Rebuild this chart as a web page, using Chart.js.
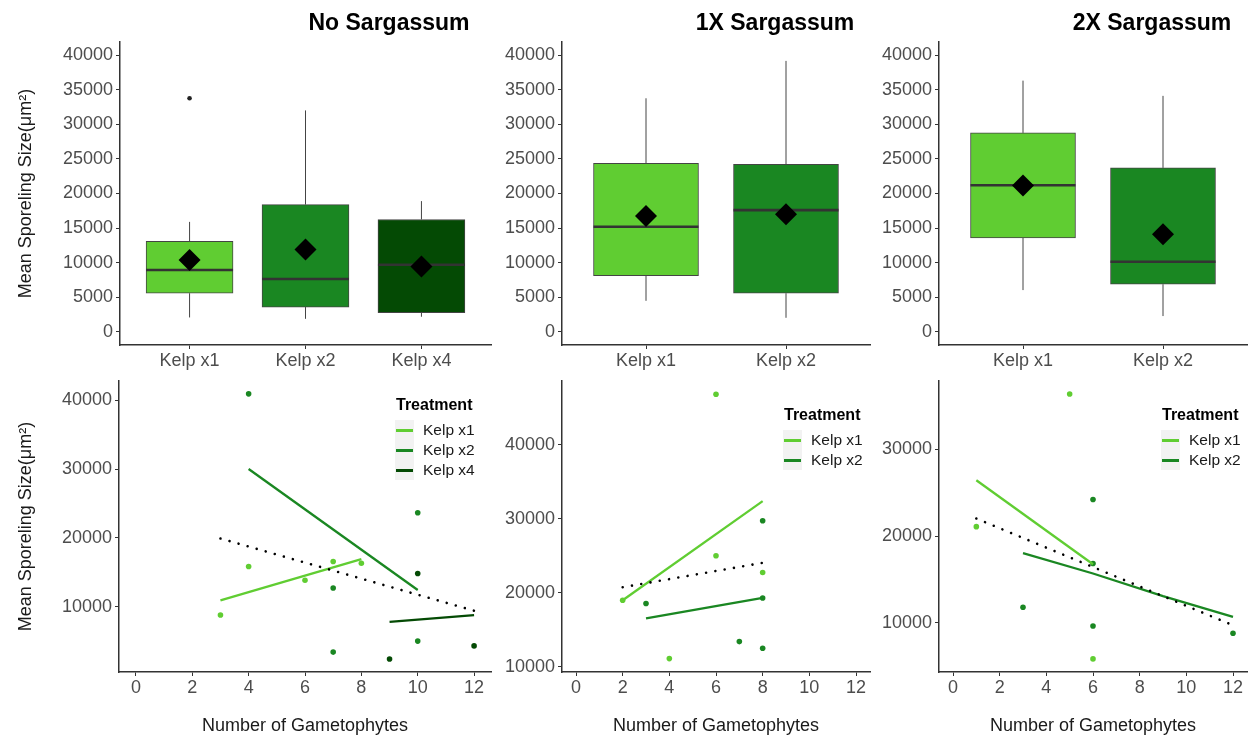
<!DOCTYPE html>
<html>
<head>
<meta charset="utf-8">
<script src="https://cdn.jsdelivr.net/npm/chart.js@4.4.1/dist/chart.umd.min.js"></script>
<style>
body { margin: 0; background: #fff; }
#wrap { position: relative; width: 1249px; height: 738px; overflow: hidden; font-family: "Liberation Sans", Arial, sans-serif; }
canvas { position: absolute; }
.title { position: absolute; top: 11px; font-weight: bold; font-size: 23px; line-height: 23px; color: #000; transform: translateX(-50%); white-space: nowrap; }
.leg-title { position: absolute; font-weight: bold; font-size: 16px; line-height: 16px; color: #000; white-space: nowrap; }
.leg-bg { position: absolute; width: 19px; background: #F2F2F2; }
.leg-key { position: absolute; width: 17px; height: 2.5px; }
.leg-label { position: absolute; font-size: 15.5px; line-height: 20px; color: #1a1a1a; white-space: nowrap; }
</style>
</head>
<body>
<div id="wrap">
  <canvas id="p1" width="493" height="343" style="left:0px;top:32px"></canvas>
  <canvas id="p2" width="380" height="343" style="left:492px;top:32px"></canvas>
  <canvas id="p3" width="380" height="343" style="left:869px;top:32px"></canvas>
  <canvas id="p4" width="493" height="367" style="left:0px;top:371px"></canvas>
  <canvas id="p5" width="380" height="367" style="left:492px;top:371px"></canvas>
  <canvas id="p6" width="380" height="367" style="left:869px;top:371px"></canvas>
  <div class="title" style="left:389px">No Sargassum</div>
  <div class="title" style="left:775px">1X Sargassum</div>
  <div class="title" style="left:1152px">2X Sargassum</div>
</div>
<script>
const FONT = '"Liberation Sans", Arial, sans-serif';
const LIGHT = '#60CD32';
const MID = '#1A8722';
const DARK = '#044A04';
const Y_TITLE = 'Mean Sporeling Size(\u03BCm\u00B2)';
const X_TITLE = 'Number of Gametophytes';

// ---- top row: box plots ----
const topTicks = [0, 5000, 10000, 15000, 20000, 25000, 30000, 35000, 40000];

// No Sargassum
const noCats = ['Kelp x1', 'Kelp x2', 'Kelp x4'];
const noLow  = [2100, 1900, 2200];
const noQ1   = [5600, 3600, 2800];
const noMed  = [8950, 7650, 9700];
const noQ3   = [13100, 18400, 16250];
const noHigh = [15900, 32000, 18900];
const noMean = [10400, 11900, 9450];
const noOutX = [1];
const noOutY = [33750];

// 1X Sargassum
const oneCats = ['Kelp x1', 'Kelp x2'];
const oneLow  = [4500, 2050];
const oneQ1   = [8150, 5600];
const oneMed  = [15200, 17600];
const oneQ3   = [24350, 24200];
const oneHigh = [33750, 39150];
const oneMean = [16750, 17000];

// 2X Sargassum
const twoCats = ['Kelp x1', 'Kelp x2'];
const twoLow  = [6050, 2300];
const twoQ1   = [13600, 6900];
const twoMed  = [21200, 10150];
const twoQ3   = [28750, 23700];
const twoHigh = [36300, 34100];
const twoMean = [21150, 14100];

// ---- bottom row: scatter + fitted lines ----
const gamTicks = [0, 2, 4, 6, 8, 10, 12];

// No Sargassum
const no1X = [3, 4, 6, 7, 8];
const no1Y = [8840, 15860, 13870, 16590, 16340];
const no2X = [4, 7, 7, 10, 10];
const no2Y = [40900, 12750, 3450, 23650, 5050];
const no4X = [9, 10, 12];
const no4Y = [2450, 14850, 4350];
const noFit1X = [3, 8];
const noFit1Y = [10950, 16920];
const noFit2X = [4, 10];
const noFit2Y = [30000, 12450];
const noFit4X = [9, 12];
const noFit4Y = [7830, 8800];
const noAllX = [3, 12];
const noAllY = [19920, 9450];
const noTicks = [10000, 20000, 30000, 40000];

// 1X Sargassum
const one1X = [2, 4, 6, 6, 8];
const one1Y = [19000, 11100, 46850, 25000, 22750];
const one2X = [3, 7, 8, 8, 8];
const one2Y = [18550, 13400, 29750, 19300, 12500];
const oneFit1X = [2, 8];
const oneFit1Y = [19000, 32400];
const oneFit2X = [3, 8];
const oneFit2Y = [16550, 19300];
const oneAllX = [2, 8];
const oneAllY = [20750, 24050];
const oneTicks = [10000, 20000, 30000, 40000];

// 2X Sargassum
const two1X = [1, 5, 6];
const two1Y = [21100, 36400, 5850];
const two2X = [3, 6, 6, 6, 12];
const two2Y = [11810, 24230, 16850, 9650, 8810];
const twoFit1X = [1, 6];
const twoFit1Y = [26460, 16770];
const twoFit2X = [3, 6, 9, 12];
const twoFit2Y = [18040, 15700, 13080, 10690];
const twoAllX = [1, 12];
const twoAllY = [22040, 9730];
const twoTicks = [10000, 20000, 30000];

const pts = (xs, ys) => xs.map((x, i) => ({x: x, y: ys[i]}));

function seg(data, color, width, order) {
    return {type: 'line', data: data, borderColor: color, borderWidth: width, pointRadius: 0, fill: false, tension: 0, order: order};
}

function axisStyle(extra) {
    return Object.assign({
        grid: {display: true, drawOnChartArea: false, drawTicks: true, tickLength: 4, color: '#333', offset: false},
        border: {display: true, color: '#333', width: 1.5},
    }, extra);
}

// Common scale setup; yw / xh fix the axis box sizes so the plot areas line up
function scalesFor(o) {
    return {
        x: axisStyle({
            type: 'linear', min: o.xMin, max: o.xMax, offset: false,
            ticks: {font: {size: 18, family: FONT}, color: '#4D4D4D', padding: 1, autoSkip: false, maxRotation: 0,
                    callback: o.xLabel},
            afterBuildTicks: s => { s.ticks = o.xTicks.map(v => ({value: v})); },
            afterFit: s => { s.height = o.xh; s.paddingLeft = 0; s.paddingRight = 0; },
            title: {display: !!o.xTitle, text: o.xTitle || '', font: {size: 18, family: FONT}, color: '#1a1a1a', padding: {top: 0, bottom: 1}}
        }),
        y: axisStyle({
            type: 'linear', min: o.yMin, max: o.yMax,
            ticks: {font: {size: 18, family: FONT}, color: '#4D4D4D', padding: 3, callback: v => String(v)},
            afterBuildTicks: s => { s.ticks = o.yTicks.map(v => ({value: v})); },
            afterFit: s => { s.width = o.yw; s.paddingTop = 0; s.paddingBottom = 0; },
            title: {display: !!o.yTitle, text: o.yTitle || '', font: {size: 18, family: FONT}, color: '#1a1a1a', padding: {top: 15, bottom: 0}}
        })
    };
}

function baseOptions(scales) {
    return {
        responsive: false, maintainAspectRatio: false, animation: false,
        layout: {autoPadding: false, padding: {left: 0, top: 10, right: 2, bottom: 0}},
        plugins: {legend: {display: false}, tooltip: {enabled: false}},
        scales: scales
    };
}

function boxChart(id, cats, fills, low, q1, med, q3, high, mean, outX, outY, yw, yTitle) {
    const canvas = document.getElementById(id);
    const boxW = 0.75;
    const plotW = canvas.width - yw - 2;
    const datasets = [];
    cats.forEach((c, i) => {
        datasets.push(seg([{x: i + 1, y: low[i]}, {x: i + 1, y: q1[i]}], '#444', 1, 5));
        datasets.push(seg([{x: i + 1, y: q3[i]}, {x: i + 1, y: high[i]}], '#444', 1, 5));
        datasets.push(seg([{x: i + 1 - boxW / 2, y: med[i]}, {x: i + 1 + boxW / 2, y: med[i]}], '#333', 2.6, 3));
    });
    datasets.push({
        type: 'bar',
        data: cats.map((c, i) => ({x: i + 1, y: [q1[i], q3[i]]})),
        backgroundColor: fills, borderColor: '#444', borderWidth: 1, borderSkipped: false,
        barThickness: boxW * plotW / (cats.length + 0.2), order: 4
    });
    datasets.push({type: 'scatter', data: pts(outX, outY), pointRadius: 2.3, backgroundColor: '#222', borderWidth: 0, order: 2});
    datasets.push({type: 'scatter', data: mean.map((m, i) => ({x: i + 1, y: m})), pointStyle: 'rectRot',
                   pointRadius: 11, backgroundColor: '#000', borderWidth: 0, order: 1});

    new Chart(canvas.getContext('2d'), {
        type: 'bar',
        data: {datasets: datasets},
        options: baseOptions(scalesFor({
            xMin: 0.4, xMax: cats.length + 0.6, xTicks: cats.map((c, i) => i + 1), xLabel: v => cats[v - 1],
            xh: 30, yMin: -1880, yMax: 41880, yTicks: topTicks, yw: yw, yTitle: yTitle
        }))
    });
}

function scatterChart(id, groups, fits, allX, allY, yMin, yMax, yTicks, yw, yTitle) {
    const datasets = [];
    groups.forEach(g => {
        datasets.push({type: 'scatter', data: pts(g.x, g.y), pointRadius: 2.8, backgroundColor: g.color, borderWidth: 0, order: 3});
    });
    fits.forEach(f => {
        datasets.push(seg(pts(f.x, f.y), f.color, 2.3, 2));
    });
    const dotted = seg(pts(allX, allY), '#000', 2.6, 1);
    dotted.borderDash = [0.01, 9.4];
    dotted.borderCapStyle = 'round';
    datasets.push(dotted);

    new Chart(document.getElementById(id).getContext('2d'), {
        type: 'scatter',
        data: {datasets: datasets},
        options: baseOptions(scalesFor({
            xMin: -0.6, xMax: 12.6, xTicks: gamTicks, xLabel: v => String(v), xh: 66, xTitle: X_TITLE,
            yMin: yMin, yMax: yMax, yTicks: yTicks, yw: yw, yTitle: yTitle
        }))
    });
}

function legend(left, bgTop, names, colors) {
    const wrap = document.getElementById('wrap');
    const t = document.createElement('div');
    t.className = 'leg-title';
    t.textContent = 'Treatment';
    t.style.left = (left + 1) + 'px';
    t.style.top = (bgTop - 23) + 'px';
    wrap.appendChild(t);
    const bg = document.createElement('div');
    bg.className = 'leg-bg';
    bg.style.left = left + 'px';
    bg.style.top = bgTop + 'px';
    bg.style.height = (names.length * 20) + 'px';
    wrap.appendChild(bg);
    names.forEach((n, i) => {
        const k = document.createElement('div');
        k.className = 'leg-key';
        k.style.background = colors[i];
        k.style.left = (left + 1) + 'px';
        k.style.top = (bgTop + i * 20 + 9) + 'px';
        wrap.appendChild(k);
        const l = document.createElement('div');
        l.className = 'leg-label';
        l.textContent = n;
        l.style.left = (left + 28) + 'px';
        l.style.top = (bgTop + i * 20) + 'px';
        wrap.appendChild(l);
    });
}

boxChart('p1', noCats, [LIGHT, MID, DARK], noLow, noQ1, noMed, noQ3, noHigh, noMean, noOutX, noOutY, 120, Y_TITLE);
boxChart('p2', oneCats, [LIGHT, MID], oneLow, oneQ1, oneMed, oneQ3, oneHigh, oneMean, [], [], 70, null);
boxChart('p3', twoCats, [LIGHT, MID], twoLow, twoQ1, twoMed, twoQ3, twoHigh, twoMean, [], [], 70, null);

scatterChart('p4',
    [{x: no1X, y: no1Y, color: LIGHT}, {x: no2X, y: no2Y, color: MID}, {x: no4X, y: no4Y, color: DARK}],
    [{x: noFit1X, y: noFit1Y, color: LIGHT}, {x: noFit2X, y: noFit2Y, color: MID}, {x: noFit4X, y: noFit4Y, color: DARK}],
    noAllX, noAllY, 566, 42760, noTicks, 119, Y_TITLE);
scatterChart('p5',
    [{x: one1X, y: one1Y, color: LIGHT}, {x: one2X, y: one2Y, color: MID}],
    [{x: oneFit1X, y: oneFit1Y, color: LIGHT}, {x: oneFit2X, y: oneFit2Y, color: MID}],
    oneAllX, oneAllY, 9290, 48640, oneTicks, 70, null);
scatterChart('p6',
    [{x: two1X, y: two1Y, color: LIGHT}, {x: two2X, y: two2Y, color: MID}],
    [{x: twoFit1X, y: twoFit1Y, color: LIGHT}, {x: twoFit2X, y: twoFit2Y, color: MID}],
    twoAllX, twoAllY, 4340, 37900, twoTicks, 70, null);

legend(395, 420, ['Kelp x1', 'Kelp x2', 'Kelp x4'], [LIGHT, MID, DARK]);
legend(783, 430, ['Kelp x1', 'Kelp x2'], [LIGHT, MID]);
legend(1161, 430, ['Kelp x1', 'Kelp x2'], [LIGHT, MID]);
</script>
</body>
</html>
